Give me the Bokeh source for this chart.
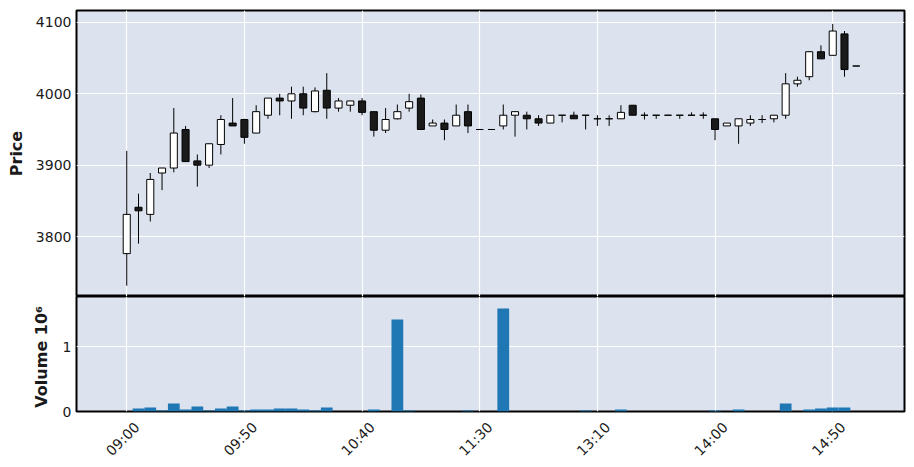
import math
from bokeh.plotting import figure
from bokeh.layouts import column
from bokeh.models import ColumnDataSource, FixedTicker, Range1d
from bokeh.core.properties import value
from bokeh.embed import file_html
from bokeh.resources import INLINE

# 5-minute bars
times = ["09:00", "09:05", "09:10", "09:15", "09:20", "09:25", "09:30", "09:35", "09:40", "09:45",
         "09:50", "09:55", "10:00", "10:05", "10:10", "10:15", "10:20", "10:25", "10:30", "10:35",
         "10:40", "10:45", "10:50", "10:55", "11:00", "11:05", "11:10", "11:15", "11:20", "11:25",
         "11:30", "12:25", "12:30", "12:35", "12:40", "12:45", "12:50", "12:55", "13:00", "13:05",
         "13:10", "13:15", "13:20", "13:25", "13:30", "13:35", "13:40", "13:45", "13:50", "13:55",
         "14:00", "14:05", "14:10", "14:15", "14:20", "14:25", "14:30", "14:35", "14:40", "14:45",
         "14:50", "14:55", "15:00"]

opens = [3776, 3841, 3831, 3889, 3896, 3950, 3906, 3900, 3929, 3959,
         3964, 3945, 3970, 3994, 3990, 4000, 3975, 4005, 3980, 3984,
         3990, 3975, 3949, 3965, 3980, 3994, 3955, 3959, 3955, 3975,
         3950, 3950, 3955, 3970, 3970, 3965, 3959, 3970, 3970, 3970,
         3965, 3965, 3965, 3984, 3970, 3970, 3970, 3970, 3970, 3970,
         3965, 3955, 3955, 3959, 3964, 3965, 3970, 4014, 4024, 4059,
         4054, 4084, 4039]
highs = [3920, 3860, 3889, 3896, 3980, 3955, 3915, 3930, 3970, 3994,
         3965, 3984, 3994, 4000, 4010, 4010, 4009, 4029, 3994, 3990,
         3994, 3975, 3980, 3985, 4000, 3999, 3964, 3964, 3985, 3985,
         3950, 3950, 3985, 3975, 3975, 3970, 3970, 3970, 3975, 3970,
         3970, 3970, 3984, 3984, 3974, 3970, 3970, 3970, 3974, 3974,
         3965, 3959, 3965, 3970, 3970, 3970, 4029, 4024, 4060, 4068,
         4098, 4088, 4039]
lows = [3731, 3790, 3821, 3865, 3890, 3905, 3870, 3896, 3915, 3955,
        3930, 3945, 3965, 3970, 3965, 3970, 3974, 3965, 3975, 3975,
        3970, 3940, 3945, 3964, 3975, 3950, 3955, 3935, 3955, 3945,
        3950, 3950, 3950, 3940, 3950, 3955, 3959, 3960, 3965, 3950,
        3955, 3955, 3965, 3970, 3964, 3965, 3970, 3965, 3970, 3965,
        3935, 3955, 3930, 3955, 3959, 3960, 3965, 4010, 4019, 4049,
        4054, 4024, 4039]
closes = [3831, 3836, 3880, 3896, 3945, 3905, 3900, 3930, 3964, 3955,
          3939, 3975, 3994, 3990, 4000, 3980, 4004, 3980, 3990, 3990,
          3974, 3949, 3964, 3975, 3989, 3950, 3959, 3950, 3970, 3955,
          3950, 3950, 3970, 3975, 3965, 3959, 3970, 3970, 3965, 3970,
          3965, 3965, 3974, 3970, 3970, 3970, 3970, 3970, 3970, 3970,
          3950, 3959, 3965, 3964, 3964, 3970, 4014, 4019, 4059, 4049,
          4088, 4034, 4039]
volumes = [0, 46000, 62000, 15000, 124000, 31000, 77000, 15000, 46000, 77000,
           15000, 31000, 31000, 46000, 46000, 31000, 15000, 62000, 0, 0,
           0, 31000, 0, 1420000, 15000, 0, 0, 0, 0, 15000,
           0, 0, 1590000, 0, 0, 0, 0, 0, 0, 15000,
           0, 0, 31000, 0, 0, 0, 0, 0, 0, 0,
           15000, 0, 31000, 0, 0, 0, 124000, 0, 31000, 46000,
           62000, 62000, 0]

price_ticks = [3800, 3900, 4000, 4100]
volume_ticks = [0, 1000000]

BG = "#DCE3EF"
FONT = "DejaVu Sans"
TXT = "#1a1a1a"

idx = list(range(len(times)))
source = ColumnDataSource(dict(
    x=idx, high=highs, low=lows, volume=volumes,
    top=[max(o, c) for o, c in zip(opens, closes)],
    bottom=[min(o, c) for o, c in zip(opens, closes)],
    fill=["white" if c >= o else "#1a1a1a" for o, c in zip(opens, closes)],
))

tick_idx = idx[::10]
x_range = Range1d(-4.27, 66.1)


def style(p):
    p.background_fill_color = BG
    p.border_fill_color = "white"
    p.outline_line_color = "black"
    p.outline_line_width = 2
    p.xgrid.ticker = FixedTicker(ticks=tick_idx)
    p.grid.grid_line_color = "white"
    p.grid.grid_line_width = 1.2
    for ax in p.xaxis + p.yaxis:
        ax.axis_line_color = None
        ax.major_tick_line_color = None
        ax.minor_tick_line_color = None
        ax.major_tick_out = 0
        ax.major_tick_in = 0
        ax.major_label_text_font = FONT
        ax.major_label_text_font_size = "14px"
        ax.major_label_text_color = TXT
        ax.major_label_standoff = 5
        ax.axis_label_text_font = FONT
        ax.axis_label_text_font_size = "16px"
        ax.axis_label_text_font_style = "bold"
        ax.axis_label_text_color = TXT


price = figure(x_range=x_range, y_range=Range1d(3715.9, 4116.8),
               frame_width=828, frame_height=286,
               min_border_left=76, min_border_top=10, min_border_bottom=0, min_border_right=2,
               output_backend="svg", toolbar_location=None)
style(price)
price.xaxis.visible = False
price.yaxis.ticker = FixedTicker(ticks=price_ticks)
price.yaxis.axis_label = "Price"
price.yaxis.axis_label_standoff = 7
price.segment(x0="x", y0="low", x1="x", y1="high", source=source, line_color="black", line_width=1)
price.vbar(x="x", top="top", bottom="bottom", width=0.6, source=source,
           fill_color="fill", line_color="black", line_width=1)

vol = figure(x_range=x_range, y_range=Range1d(0, 1.777e6),
             frame_width=828, frame_height=115,
             min_border_left=76, min_border_top=0, min_border_right=2, min_border_bottom=7,
             output_backend="svg", toolbar_location=None)
style(vol)
vol.vbar(x="x", top="volume", width=1.0, source=source, fill_color="#1f77b4", line_color=None)
vol.yaxis.ticker = FixedTicker(ticks=volume_ticks)
vol.yaxis.major_label_overrides = {0: "0", 1000000: "1"}
vol.yaxis.axis_label = "Volume  10⁶"
vol.yaxis.axis_label_standoff = 9
vol.xaxis.visible = False

# strip under the volume panel holding the rotated time labels
lab = figure(x_range=x_range, y_range=Range1d(-42, 0),
             frame_width=828, frame_height=42,
             min_border_left=76, min_border_top=0, min_border_right=2, min_border_bottom=0,
             output_backend="svg", toolbar_location=None)
lab.axis.visible = False
lab.grid.visible = False
lab.outline_line_color = None
lab.background_fill_color = "white"
lab.text(x=tick_idx, y=[-20.5] * len(tick_idx), text=[times[i] for i in tick_idx],
         angle=math.pi / 4, x_offset=-4, text_align="center", text_baseline="middle",
         text_font=value(FONT), text_font_size=value("14px"), text_color=TXT)

layout = column(price, vol, lab)
open("out.html", "w").write(file_html(layout, INLINE))
